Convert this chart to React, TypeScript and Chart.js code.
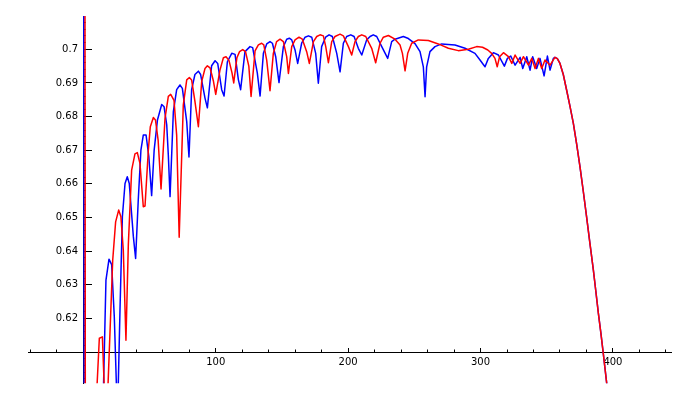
import { useEffect, useRef } from 'react';
import { Chart, registerables } from 'chart.js';

Chart.register(...registerables);

// ---- data ----
const blueX = [
  0.3, 0.7, 13.8, 17.1, 19.4, 21.4, 23.4, 25.8, 27.7, 29.5, 31.5, 33.2, 34.7, 37.8, 39.5,
  41.5, 43.5, 45.3, 47.4, 49.5, 51.6, 53.5, 56.0, 59.2, 61.0, 63.0, 64.2, 65.5,
  68.0, 70.5, 73.0, 74.8, 78.1, 79.8, 81.8, 84.3, 86.9, 88.6, 91.9, 93.7,
  96.9, 99.5, 101.5, 104.5, 106.3, 108.8, 112.1, 114.6, 117.1, 118.8,
  122.1, 125.9, 127.9, 131.4, 133.5, 136.0, 138.5, 141.0, 142.8, 145.3, 147.8,
  151.1, 153.6, 155.6, 157.4, 159.9, 161.9, 164.9, 167.5, 170.0, 172.5, 175.5, 177.5,
  180.0, 183.0, 185.6, 188.1, 191.4, 193.9, 196.4, 198.9, 202.0, 204.5, 207.7, 210.3,
  214.0, 216.6, 219.0, 221.6, 225.4, 229.9, 232.9, 235.4, 241.7, 245.5, 250.5, 254.3, 256.8, 258.1,
  259.3, 261.8, 265.6, 270.6, 280.7, 288.3, 295.8, 299.6, 302.1, 303.4,
  305.9, 309.7, 313.5, 318.0, 320.3, 322.8, 326.1, 329.9, 331.9, 334.9, 337.4,
  339.4, 342.4, 344.9, 348.0, 350.5, 352.5, 355.0,
];
const blueY = [
  0.74, 0.56, 0.575, 0.6314, 0.6376, 0.636, 0.6205, 0.59, 0.6225, 0.6502, 0.6601, 0.6621, 0.6601, 0.6443, 0.6378,
  0.6552, 0.67, 0.6745, 0.6745, 0.668, 0.6565, 0.67, 0.679, 0.6836, 0.6829, 0.6775, 0.6686, 0.6562,
  0.6815, 0.688, 0.6894, 0.6884, 0.6785, 0.668, 0.688, 0.6925, 0.6935, 0.6925, 0.6855, 0.6826,
  0.6951, 0.6966, 0.6958, 0.688, 0.6861, 0.6963, 0.6988, 0.6985, 0.691, 0.688,
  0.6993, 0.7008, 0.7005, 0.693, 0.6861, 0.6988, 0.7016, 0.7023, 0.7018, 0.6978, 0.6901,
  0.7008, 0.703, 0.7033, 0.7028, 0.6998, 0.6958, 0.7018, 0.7036, 0.704, 0.7036, 0.6988, 0.6899,
  0.7008, 0.7036, 0.7043, 0.7038, 0.6988, 0.6933, 0.7018, 0.7038, 0.7043, 0.7038, 0.7003, 0.6983,
  0.7028, 0.7038, 0.7043, 0.7038, 0.7008, 0.6973, 0.7023, 0.703, 0.7038, 0.7032, 0.7017, 0.6993, 0.6948, 0.6859,
  0.6948, 0.6993, 0.7008, 0.7016, 0.7013, 0.7003, 0.6988, 0.6968, 0.6955, 0.6948,
  0.6973, 0.699, 0.6983, 0.695, 0.6973, 0.698, 0.6953, 0.6976, 0.6943, 0.6978, 0.6938,
  0.6978, 0.6943, 0.6973, 0.6921, 0.698, 0.6938, 0.6973,
];

const redX = [
  1.2, 1.6, 8.5, 12.1, 14.4, 17.2, 22.2, 24.4, 26.7, 28.4, 30.2, 32.2, 34.0, 36.5, 39.0,
  40.8, 42.8, 45.3, 46.6, 49.1, 50.6, 52.9, 54.5, 56.5, 58.7, 61.7, 64.2, 66.0, 68.5, 70.5, 72.4,
  75.5, 78.1, 80.1, 81.8, 84.3, 86.9, 89.4, 91.9, 93.7, 95.7, 98.3, 100.0,
  103.2, 105.8, 107.8, 110.0, 112.3, 113.6, 116.0, 118.0, 120.4, 122.5, 125.0, 126.7,
  129.7, 132.2, 134.7, 136.3, 138.5, 141.0, 143.5, 146.0, 148.6, 151.1, 153.6, 154.9,
  157.4, 159.9, 162.9, 165.4, 168.7, 170.7, 173.8, 176.3, 178.8, 181.3, 183.1, 185.1,
  187.6, 190.1, 193.9, 196.4, 200.2, 202.7, 205.2, 207.7, 210.3, 213.3, 217.8, 220.8,
  224.1, 226.6, 230.4, 235.4, 239.2, 241.0, 243.0, 245.0, 248.0, 253.0, 260.6, 268.1,
  275.7, 283.2, 290.8, 297.1, 301.5, 305.5, 308.4, 310.9, 312.6,
  314.4, 317.3, 321.1, 323.6, 326.1, 329.9, 332.4, 336.2, 338.7, 341.2, 343.7, 346.2, 348.7, 352.5,
];
const redY = [
  0.74, 0.56, 0.585, 0.6141, 0.6145, 0.585, 0.6373, 0.6487, 0.6522, 0.6502, 0.6403, 0.6135, 0.642, 0.6641, 0.6689,
  0.6693, 0.666, 0.6532, 0.6534, 0.67, 0.677, 0.6797, 0.679, 0.673, 0.6585, 0.6795, 0.686, 0.6866, 0.6848, 0.6745, 0.6441,
  0.6834, 0.6909, 0.6916, 0.6909, 0.6845, 0.677, 0.6904, 0.6943, 0.6951, 0.6945, 0.6905, 0.6866,
  0.6938, 0.6975, 0.6978, 0.6967, 0.693, 0.69, 0.6975, 0.6993, 0.6999, 0.6993, 0.695, 0.686,
  0.6995, 0.7013, 0.7018, 0.7013, 0.6968, 0.6877, 0.6988, 0.7023, 0.703, 0.7023, 0.6978, 0.6928,
  0.7008, 0.7028, 0.7036, 0.703, 0.6993, 0.6958, 0.7023, 0.7038, 0.7043, 0.704, 0.7008, 0.696,
  0.7023, 0.7038, 0.7045, 0.704, 0.7008, 0.6983, 0.7023, 0.7038, 0.7043, 0.7038, 0.7003, 0.696,
  0.7018, 0.7036, 0.7041, 0.703, 0.7013, 0.6988, 0.6936, 0.6988, 0.7018, 0.7028, 0.7026, 0.7016,
  0.7003, 0.6996, 0.7, 0.7008, 0.7006, 0.6998, 0.6988, 0.6973, 0.6948,
  0.6978, 0.699, 0.6978, 0.6958, 0.6983, 0.6958, 0.6978, 0.6953, 0.6973, 0.6943, 0.6973, 0.6943, 0.6968, 0.6953,
];

// shared falling tail of both curves
const tailX = [
  356.2, 358.0, 360.0, 362.5, 365.0, 367.5, 370.1, 372.6, 375.1, 377.6, 380.1, 382.6,
  385.2, 387.1, 389.0, 390.9, 392.7, 395.3, 397.0,
];
const tailY = [
  0.6976, 0.6972, 0.6958, 0.6925, 0.6879, 0.6832, 0.678, 0.6718, 0.6651, 0.6578, 0.6502, 0.6424,
  0.6344, 0.628, 0.6215, 0.6156, 0.6096, 0.6007, 0.595,
];

const xMajorTicks = [100, 200, 300, 400];
const xTickLabels = ['100', '200', '300', '400'];
const yMajorTicks = [0.62, 0.63, 0.64, 0.65, 0.66, 0.67, 0.68, 0.69, 0.7];
const yTickLabels = ['0.62', '0.63', '0.64', '0.65', '0.66', '0.67', '0.68', '0.69', '0.7'];

const toPoints = (xs: number[], ys: number[]) => xs.map((x, i) => ({ x, y: ys[i] }));

export default function App() {
  const ref = useRef<HTMLCanvasElement>(null);

  useEffect(() => {
    const canvas = ref.current;
    if (!canvas) return;

    const X_MIN = -41.4;
    const X_MAX = 444;
    const Y_MIN = 0.6007;
    const Y_MAX = 0.7099;
    const font = { family: 'DejaVu Sans', size: 10 };

    const bluePts = toPoints(blueX.concat(tailX), blueY.concat(tailY));
    const redPts = toPoints(redX.concat(tailX), redY.concat(tailY));

    const chart = new Chart(canvas, {
      type: 'line',
      data: {
        datasets: [
          {
            label: 'red',
            data: redPts,
            borderColor: '#ff0000',
            backgroundColor: '#ff0000',
            borderWidth: 1.5,
            borderJoinStyle: 'round',
            pointRadius: 0,
            tension: 0,
            fill: false,
            xAxisID: 'x',
            yAxisID: 'y',
          },
          {
            label: 'blue',
            data: bluePts,
            borderColor: '#0000ff',
            backgroundColor: '#0000ff',
            borderWidth: 1.5,
            borderJoinStyle: 'round',
            pointRadius: 0,
            tension: 0,
            fill: false,
            xAxisID: 'x',
            yAxisID: 'y',
          },
        ],
      },
      options: {
        responsive: false,
        animation: false,
        events: [],
        layout: { padding: { left: 28.5, right: 28.8, top: 16, bottom: 16.7 } },
        plugins: { legend: { display: false }, tooltip: { enabled: false } },
        scales: {
          x: {
            type: 'linear',
            axis: 'x',
            min: X_MIN,
            max: X_MAX,
            position: { y: 0.61 },
            grid: { display: true, drawOnChartArea: false, drawTicks: true, tickLength: -5, color: '#000', tickColor: '#000', tickWidth: 1 },
            border: { display: true, color: '#000', width: 1 },
            ticks: {
              display: true,
              autoSkip: false,
              maxRotation: 0,
              padding: 9.5,
              font,
              color: '#000',
              callback: (_v: any, i: number) => xTickLabels[i] ?? '',
            },
            afterBuildTicks: (s: any) => {
              s.ticks = xMajorTicks.map((value) => ({ value }));
            },
          },
          xMinor: {
            type: 'linear',
            axis: 'x',
            min: X_MIN,
            max: X_MAX,
            position: { y: 0.61 },
            grid: { display: true, drawOnChartArea: false, drawTicks: true, tickLength: -2.5, color: '#000', tickColor: '#000', tickWidth: 1 },
            border: { display: false },
            ticks: { display: false, stepSize: 20, includeBounds: false },
          },
          y: {
            type: 'linear',
            axis: 'y',
            min: Y_MIN,
            max: Y_MAX,
            position: { x: 0 },
            grid: { display: true, drawOnChartArea: false, drawTicks: true, tickLength: -9, color: '#000', tickColor: '#000', tickWidth: 1 },
            border: { display: true, color: '#000', width: 1 },
            ticks: { display: false },
            afterBuildTicks: (s: any) => {
              s.ticks = yMajorTicks.map((value) => ({ value }));
            },
          },
          yMinor: {
            type: 'linear',
            axis: 'y',
            min: Y_MIN,
            max: Y_MAX,
            position: { x: 0 },
            grid: { display: true, drawOnChartArea: false, drawTicks: true, tickLength: -2.5, color: '#000', tickColor: '#000', tickWidth: 1 },
            border: { display: false },
            ticks: { display: false, stepSize: 0.002, includeBounds: false },
          },
          yLabels: {
            type: 'linear',
            axis: 'y',
            min: Y_MIN,
            max: Y_MAX,
            position: { x: -4 },
            grid: { display: false, drawOnChartArea: false, drawTicks: false },
            border: { display: false },
            ticks: {
              display: true,
              autoSkip: false,
              padding: 0,
              font,
              color: '#000',
              callback: (_v: any, i: number) => yTickLabels[i] ?? '',
            },
            afterBuildTicks: (s: any) => {
              s.ticks = yMajorTicks.map((value) => ({ value }));
            },
          },
        },
      } as any,
    });

    return () => chart.destroy();
  }, []);

  return (
    <div style={{ position: 'absolute', left: 0, top: 0, width: 700, height: 400, background: '#fff' }}>
      <canvas ref={ref} width={700} height={400} style={{ display: 'block', width: 700, height: 400 }} />
    </div>
  );
}
